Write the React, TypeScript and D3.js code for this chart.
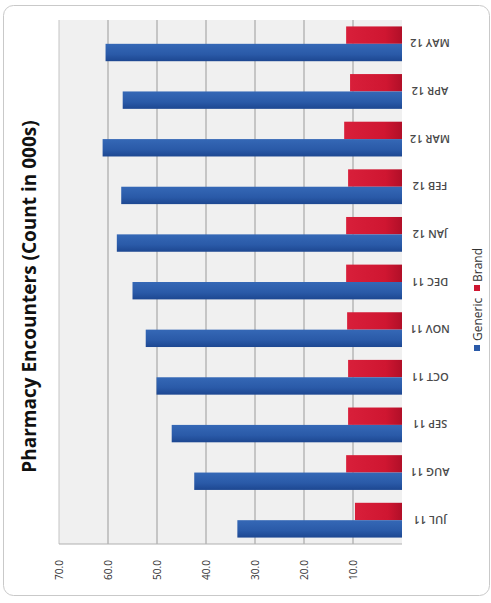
import React from 'react';
import * as d3 from 'd3';

// Monthly pharmacy encounters, counts in thousands
const months = ['JUL 11', 'AUG 11', 'SEP 11', 'OCT 11', 'NOV 11', 'DEC 11', 'JAN 12', 'FEB 12', 'MAR 12', 'APR 12', 'MAY 12'];
const generic = [33.6, 42.4, 47.0, 50.1, 52.3, 55.0, 58.2, 57.3, 61.1, 57.0, 60.5];
const brand = [9.6, 11.4, 11.0, 11.0, 11.2, 11.4, 11.4, 11.0, 11.8, 10.6, 11.4];
const valueTicks = [10, 20, 30, 40, 50, 60, 70];
const seriesNames = ['Brand', 'Generic'];
const title = 'Pharmacy Encounters (Count in 000s)';

const W = 491;
const H = 603;
const FONT = '"Open Sans", "Noto Sans", Arial, sans-serif';

export default function App() {
  // Value axis runs right-to-left, categories bottom-to-top
  const x = d3.scaleLinear().domain([0, 70]).range([402, 59]);
  const y = d3.scaleBand<string>().domain(months).range([544, 20]).paddingInner(0.27).paddingOuter(0.135);
  const sub = d3.scaleBand<string>().domain(seriesNames).range([0, y.bandwidth()]);
  const fmt = d3.format('.1f');

  const rows = months.map((m, i) => ({ month: m, Generic: generic[i], Brand: brand[i] }));
  const [x0] = x.range();

  return (
    <svg width={W} height={H} style={{ position: 'absolute', left: 0, top: 0 }} fontFamily={FONT}>
      <defs>
        <linearGradient id="gBlue" x1="0" y1="0" x2="0" y2="1">
          <stop offset="0" stopColor="#3568b6" />
          <stop offset="0.6" stopColor="#2a5aa8" />
          <stop offset="1" stopColor="#1d4791" />
        </linearGradient>
        <linearGradient id="gRed" x1="0" y1="0" x2="1" y2="0">
          <stop offset="0" stopColor="#d81f3a" />
          <stop offset="0.7" stopColor="#cf1631" />
          <stop offset="1" stopColor="#b10f28" />
        </linearGradient>
      </defs>

      <rect x={3.5} y={5.5} width={486} height={590} rx={10} fill="#ffffff" stroke="#c9c9c9" strokeWidth={1} />

      {/* plot area */}
      <rect x={x(70)} y={20} width={x0 - x(70)} height={524} fill="#f0f0f0" />
      {valueTicks.map((t) => (
        <line key={t} x1={x(t)} x2={x(t)} y1={20} y2={544} stroke={t === 70 ? '#c4c4c4' : '#9a9a9a'} strokeWidth={1} />
      ))}
      <line x1={x(70)} x2={x0} y1={544} y2={544} stroke="#b0b0b0" strokeWidth={1} />

      {/* bars */}
      {rows.map((r) => (
        <g key={r.month} transform={`translate(0,${y(r.month)})`}>
          {seriesNames.map((s) => {
            const v = (r as any)[s] as number;
            return (
              <rect
                key={s}
                x={x(v)}
                y={sub(s)}
                width={x0 - x(v)}
                height={sub.bandwidth()}
                fill={s === 'Generic' ? 'url(#gBlue)' : 'url(#gRed)'}
              />
            );
          })}
        </g>
      ))}

      {/* value tick labels */}
      {valueTicks.map((t) => (
        <text
          key={t}
          transform={`translate(${x(t)},570) rotate(-90)`}
          textAnchor="middle"
          dominantBaseline="central"
          fontSize={10}
          fill="#333"
        >
          {fmt(t)}
        </text>
      ))}

      {/* category labels */}
      {months.map((m) => (
        <text
          key={m}
          transform={`translate(430,${(y(m) as number) + y.bandwidth() / 2}) rotate(180)`}
          textAnchor="middle"
          dominantBaseline="central"
          fontSize={11}
          fontWeight={600}
          fill="#4a4a4a"
        >
          {m}
        </text>
      ))}

      {/* legend */}
      <g transform="translate(477,348) rotate(-90)">
        <rect x={-3} y={-3} width={6} height={6} fill="#2a5aa8" />
        <text x={7} y={0} dominantBaseline="central" fontSize={12} fill="#333">Generic</text>
        <rect x={57} y={-3} width={6} height={6} fill="#cf1631" />
        <text x={66} y={0} dominantBaseline="central" fontSize={12} fill="#333">Brand</text>
      </g>

      {/* title */}
      <text
        transform="translate(29,296.5) rotate(-90)"
        textAnchor="middle"
        dominantBaseline="central"
        fontSize={19}
        fontWeight={700}
        fill="#111"
      >
        {title}
      </text>
    </svg>
  );
}
